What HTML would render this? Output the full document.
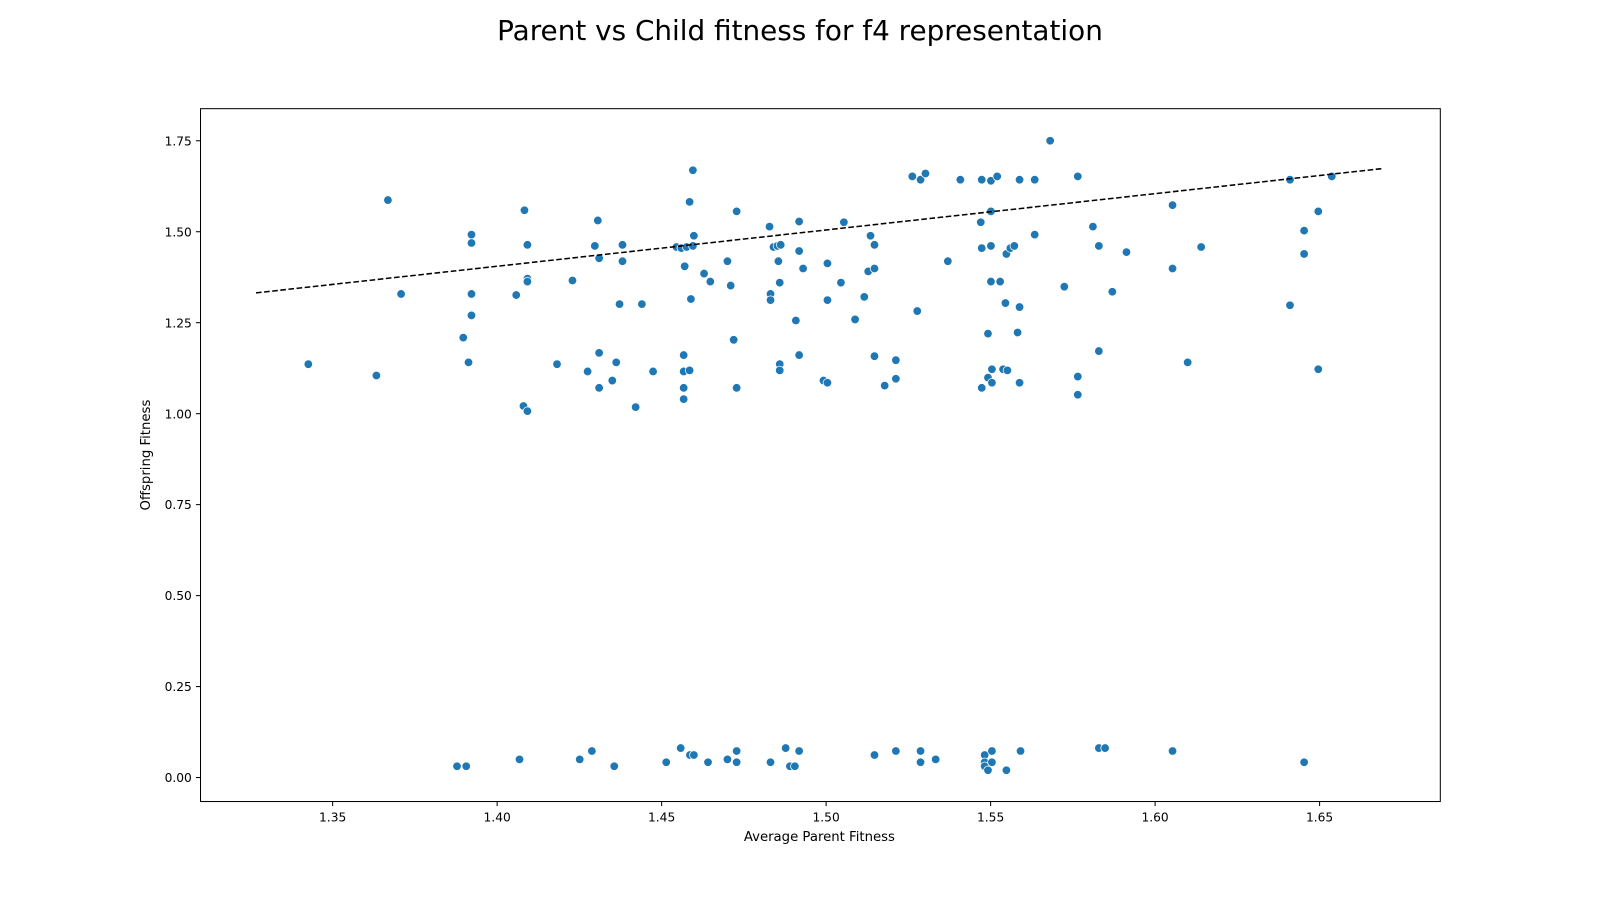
<!DOCTYPE html>
<html><head><meta charset="utf-8"><style>
body{margin:0;background:#fff;}
svg text{font-family:"DejaVu Sans","Liberation Sans",sans-serif;fill:#000;}
</style></head><body>
<svg id="chart" width="1600" height="900" xmlns="http://www.w3.org/2000/svg">
<rect width="1600" height="900" fill="#fff"/>
<g transform="scale(1.020408)">
<text x="784" y="39" font-size="27.3" text-anchor="middle">Parent vs Child fitness for f4 representation</text>
<g id="marks"></g>
<rect x="196.5" y="106.5" width="1215" height="679" fill="none" stroke="#000" stroke-width="1"/>
<g id="axes"></g>
<text x="803" y="824" font-size="13" text-anchor="middle">Average Parent Fitness</text>
<text transform="translate(147,446) rotate(-90)" font-size="13" text-anchor="middle">Offspring Fitness</text>
</g>
</svg>
<script>
const parentX=[1.3426,1.3633,1.3668,1.3708,1.3897,1.3913,1.3922,1.3922,1.3922,1.3922,1.4083,1.4092,1.4092,1.4092,1.4058,1.408,1.4092,1.4182,1.4229,1.4275,1.4306,1.4297,1.431,1.431,1.431,1.435,1.4362,1.4372,1.4381,1.4381,1.4421,1.444,1.4474,1.4545,1.456,1.4576,1.4595,1.4585,1.4595,1.4598,1.457,1.4589,1.4567,1.4567,1.4585,1.4567,1.4567,1.4629,1.4648,1.47,1.471,1.4719,1.4728,1.4728,1.4828,1.484,1.4852,1.4862,1.4855,1.4831,1.4831,1.4859,1.4859,1.4859,1.4908,1.4918,1.4918,1.493,1.4918,1.4992,1.5004,1.5004,1.5004,1.5045,1.5054,1.5088,1.5116,1.5128,1.5135,1.5147,1.5147,1.5147,1.5178,1.5212,1.5212,1.5262,1.5287,1.5302,1.5277,1.537,1.5408,1.5473,1.547,1.5473,1.5473,1.5492,1.5492,1.5501,1.552,1.5501,1.5501,1.5501,1.5504,1.5504,1.5529,1.5545,1.5538,1.5551,1.5548,1.556,1.5572,1.5582,1.5588,1.5588,1.5588,1.5634,1.5634,1.5681,1.5724,1.5765,1.5765,1.5765,1.5811,1.5829,1.5829,1.587,1.5913,1.6053,1.6053,1.6099,1.614,1.641,1.641,1.6453,1.6453,1.6496,1.6496,1.6537,
1.3878,1.3906,1.4068,1.4251,1.4288,1.4356,1.4514,1.4558,1.4586,1.4598,1.4641,1.47,1.4728,1.4728,1.4831,1.4877,1.489,1.4905,1.4918,1.5147,1.5212,1.5287,1.5287,1.5333,1.5482,1.5482,1.5482,1.5492,1.5504,1.5504,1.5548,1.5591,1.5829,1.5848,1.6053,1.6453];
const childY=[1.136,1.105,1.587,1.329,1.209,1.141,1.492,1.469,1.329,1.270,1.559,1.464,1.371,1.363,1.326,1.021,1.007,1.136,1.366,1.116,1.531,1.461,1.427,1.167,1.071,1.091,1.141,1.301,1.464,1.419,1.018,1.301,1.116,1.458,1.455,1.458,1.461,1.582,1.669,1.489,1.405,1.315,1.161,1.116,1.119,1.071,1.040,1.385,1.363,1.419,1.352,1.203,1.556,1.071,1.514,1.458,1.461,1.464,1.419,1.329,1.312,1.360,1.136,1.119,1.256,1.528,1.447,1.399,1.161,1.091,1.413,1.312,1.085,1.360,1.526,1.259,1.321,1.391,1.489,1.464,1.399,1.158,1.077,1.147,1.096,1.652,1.643,1.660,1.282,1.419,1.643,1.643,1.526,1.455,1.071,1.220,1.099,1.640,1.652,1.556,1.461,1.363,1.122,1.085,1.363,1.304,1.122,1.119,1.439,1.455,1.461,1.223,1.643,1.293,1.085,1.643,1.492,1.750,1.349,1.652,1.102,1.052,1.514,1.461,1.172,1.335,1.444,1.573,1.399,1.141,1.458,1.643,1.298,1.503,1.439,1.556,1.122,1.652,
0.031,0.031,0.050,0.050,0.073,0.031,0.042,0.081,0.062,0.062,0.042,0.050,0.073,0.042,0.042,0.081,0.031,0.031,0.073,0.062,0.073,0.073,0.042,0.050,0.062,0.042,0.031,0.020,0.073,0.042,0.020,0.073,0.081,0.081,0.073,0.042];
const trendX=[1.3267,1.6695];
const trendY=[1.332,1.674];
const xTicks=[1.35,1.40,1.45,1.50,1.55,1.60,1.65];
const yTicks=[0,0.25,0.5,0.75,1.0,1.25,1.5,1.75];
const xTickLabels=["1.35","1.40","1.45","1.50","1.55","1.60","1.65"];
const yTickLabels=["0.00","0.25","0.50","0.75","1.00","1.25","1.50","1.75"];

const NS="http://www.w3.org/2000/svg";
function sx(v){return 326+(v-1.35)*3224;}
function sy(v){return 762-v*356.6;}
function mk(tag,attrs,parent){const e=document.createElementNS(NS,tag);for(const k in attrs)e.setAttribute(k,attrs[k]);parent.appendChild(e);return e;}
const marks=document.getElementById('marks'), axes=document.getElementById('axes');
for(let i=0;i<parentX.length;i++){
  const c=mk('circle',{cx:sx(parentX[i]),cy:sy(childY[i]),r:4.2,fill:'#1f77b4',stroke:'#fff','stroke-width':0.75},marks);
  
  
}
const tl=mk('line',{x1:sx(trendX[0]),y1:sy(trendY[0]),x2:sx(trendX[1]),y2:sy(trendY[1]),stroke:'#000','stroke-width':1.5,'stroke-dasharray':'5.5,2.5'},marks);


xTicks.forEach((t,i)=>{
  const x=sx(t);
  const l=mk('line',{x1:x,y1:785.5,x2:x,y2:790,stroke:'#000'},axes);
  
  
  const tx=mk('text',{x:x,y:805,'font-size':12,'text-anchor':'middle'},axes);
  tx.textContent=xTickLabels[i];
  
  
});
yTicks.forEach((t,i)=>{
  const y=sy(t);
  const l=mk('line',{x1:192,y1:y,x2:196.5,y2:y,stroke:'#000'},axes);
  
  
  const tx=mk('text',{x:188,y:y+4.5,'font-size':12,'text-anchor':'end'},axes);
  tx.textContent=yTickLabels[i];
  
  
});
</script>
</body></html>
